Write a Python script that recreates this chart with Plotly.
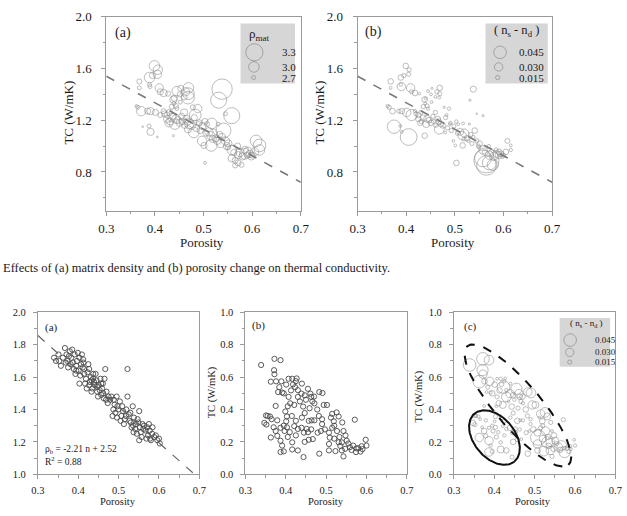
import numpy as np
import plotly.graph_objects as go

W, H = 627, 516
FONT = "Liberation Serif"

# ---------------- top row data (same samples in panels a and b) ----------------
top_porosity = [
    0.399, 0.406, 0.405, 0.389, 0.395, 0.368, 0.389, 0.368, 0.390, 0.409,
    0.411, 0.418, 0.427, 0.445, 0.453, 0.463, 0.451, 0.469, 0.469, 0.468,
    0.538, 0.531, 0.558, 0.541, 0.365, 0.362, 0.372, 0.385, 0.391, 0.401,
    0.411, 0.425, 0.435, 0.439, 0.445, 0.435, 0.431, 0.441, 0.429, 0.451,
    0.461, 0.471, 0.467, 0.481, 0.483, 0.488, 0.460, 0.468, 0.480, 0.491,
    0.498, 0.503, 0.507, 0.497, 0.503, 0.511, 0.517, 0.515, 0.519, 0.516,
    0.501, 0.528, 0.533, 0.538, 0.545, 0.551, 0.558, 0.558, 0.565, 0.565,
    0.571, 0.578, 0.571, 0.585, 0.591, 0.598, 0.608, 0.615, 0.615, 0.605,
    0.388, 0.375, 0.405, 0.438, 0.391, 0.420, 0.425, 0.443, 0.447, 0.456,
    0.475, 0.485, 0.493, 0.520, 0.525, 0.535, 0.548, 0.575, 0.580, 0.590,
    0.595, 0.600, 0.418, 0.430, 0.440, 0.438, 0.443, 0.452, 0.460, 0.478,
    0.530, 0.545, 0.570, 0.585, 0.562, 0.550, 0.505, 0.490, 0.455, 0.465,
]
top_tc = [
    1.620, 1.590, 1.555, 1.530, 1.545, 1.500, 1.475, 1.450, 1.460, 1.450,
    1.420, 1.410, 1.405, 1.425, 1.447, 1.420, 1.400, 1.450, 1.405, 1.375,
    1.440, 1.355, 1.235, 1.120, 1.300, 1.310, 1.270, 1.270, 1.270, 1.260,
    1.240, 1.240, 1.305, 1.330, 1.290, 1.220, 1.190, 1.170, 1.180, 1.180,
    1.160, 1.170, 1.190, 1.220, 1.240, 1.290, 1.260, 1.130, 1.105, 1.180,
    1.155, 1.190, 1.170, 1.040, 0.870, 1.110, 1.175, 1.080, 1.055, 1.005,
    1.005, 1.040, 1.090, 1.070, 1.040, 1.020, 0.970, 0.905, 0.890, 0.850,
    0.870, 0.855, 0.930, 0.940, 0.955, 0.920, 1.040, 1.005, 0.970, 0.955,
    1.155, 1.150, 1.070, 1.080, 1.110, 1.250, 1.210, 1.210, 1.200, 1.190,
    1.160, 1.140, 1.120, 1.100, 1.060, 1.020, 1.000, 0.950, 0.920, 0.930,
    0.940, 0.930, 1.270, 1.260, 1.370, 1.360, 1.310, 1.340, 1.380, 1.300,
    1.170, 1.250, 1.000, 0.970, 0.950, 0.990, 1.100, 1.170, 1.230, 1.210,
]
top_rho_mat = [
    3.00, 2.95, 2.90, 3.00, 2.80, 2.75, 2.70, 2.70, 2.70, 2.90,
    2.80, 2.85, 2.75, 2.95, 2.80, 2.90, 2.75, 3.00, 3.05, 3.10,
    3.45, 3.25, 3.25, 3.20, 2.70, 2.65, 2.95, 2.80, 2.85, 2.80,
    2.75, 2.80, 2.75, 2.70, 2.70, 2.90, 2.85, 3.00, 2.90, 2.85,
    2.80, 2.95, 2.85, 2.80, 3.05, 2.90, 2.85, 2.85, 3.00, 2.80,
    2.85, 2.80, 2.75, 2.95, 2.65, 2.90, 3.00, 2.90, 2.85, 3.05,
    2.80, 2.85, 2.80, 2.85, 2.90, 2.85, 2.95, 2.85, 2.80, 2.75,
    2.80, 2.75, 2.85, 3.00, 2.95, 2.85, 3.05, 3.10, 3.00, 2.90,
    2.70, 2.60, 2.60, 2.62, 2.85, 2.80, 2.85, 2.90, 2.85, 2.80,
    2.90, 2.85, 2.80, 2.90, 2.85, 2.90, 2.85, 2.90, 2.85, 2.80,
    2.85, 2.80, 2.75, 2.80, 2.80, 2.85, 2.75, 2.70, 2.80, 2.75,
    2.70, 2.70, 2.80, 2.85, 2.80, 2.75, 2.80, 2.75, 2.80, 2.85,
]
top_dn = [
    0.020, 0.015, 0.015, 0.020, 0.015, 0.020, 0.012, 0.010, 0.030, 0.030,
    0.015, 0.020, 0.010, 0.010, 0.008, 0.015, 0.010, 0.020, 0.015, 0.010,
    0.022, 0.008, 0.008, 0.020, 0.015, 0.012, 0.020, 0.015, 0.020, 0.030,
    0.040, 0.020, 0.015, 0.010, 0.012, 0.020, 0.015, 0.025, 0.020, 0.020,
    0.015, 0.020, 0.020, 0.015, 0.010, 0.012, 0.015, 0.035, 0.010, 0.012,
    0.015, 0.012, 0.010, 0.010, 0.020, 0.025, 0.010, 0.030, 0.015, 0.020,
    0.010, 0.012, 0.015, 0.012, 0.015, 0.020, 0.030, 0.060, 0.090, 0.070,
    0.050, 0.040, 0.030, 0.025, 0.020, 0.015, 0.018, 0.010, 0.012, 0.020,
    0.010, 0.048, 0.060, 0.020, 0.010, 0.015, 0.020, 0.025, 0.020, 0.015,
    0.020, 0.015, 0.015, 0.030, 0.020, 0.015, 0.015, 0.020, 0.030, 0.025,
    0.020, 0.015, 0.012, 0.015, 0.010, 0.020, 0.015, 0.010, 0.010, 0.008,
    0.008, 0.006, 0.012, 0.015, 0.020, 0.012, 0.015, 0.010, 0.015, 0.020,
]
top_fit_porosity = [0.3, 0.7]
top_fit_tc = [1.54, 0.72]

legend_rho_vals = [3.3, 3.0, 2.7]
legend_rho_labels = ["3.3", "3.0", "2.7"]
legend_dn_vals = [0.045, 0.030, 0.015]
legend_dn_labels = ["0.045", "0.030", "0.015"]

# ---------------- bottom (a): bulk density ----------------
bulk_porosity = [
    0.340, 0.351, 0.353, 0.357, 0.367, 0.371, 0.373, 0.379, 0.383, 0.385,
    0.387, 0.391, 0.395, 0.397, 0.399, 0.401, 0.403, 0.407, 0.409, 0.411,
    0.415, 0.403, 0.419, 0.425, 0.423, 0.427, 0.431, 0.435, 0.439, 0.443,
    0.447, 0.451, 0.455, 0.457, 0.459, 0.463, 0.465, 0.467, 0.470, 0.475,
    0.482, 0.485, 0.490, 0.495, 0.499, 0.503, 0.507, 0.511, 0.515, 0.522,
    0.522, 0.525, 0.530, 0.535, 0.538, 0.543, 0.547, 0.551, 0.553, 0.555,
    0.559, 0.551, 0.563, 0.567, 0.573, 0.575, 0.578, 0.584, 0.592, 0.600,
    0.602, 0.375, 0.381, 0.389, 0.393, 0.405, 0.413, 0.417, 0.421, 0.429,
    0.433, 0.437, 0.441, 0.445, 0.449, 0.453, 0.461, 0.469, 0.473, 0.479,
    0.488, 0.492, 0.497, 0.505, 0.509, 0.513, 0.518, 0.527, 0.532, 0.537,
    0.541, 0.545, 0.549, 0.557, 0.561, 0.569, 0.571, 0.577, 0.580, 0.588,
    0.596, 0.345, 0.362, 0.369, 0.377, 0.395, 0.412, 0.427, 0.437, 0.457,
    0.462, 0.487, 0.496, 0.519, 0.529, 0.536, 0.583, 0.415, 0.433, 0.447,
]
bulk_density = [
    1.72, 1.74, 1.70, 1.67, 1.78, 1.74, 1.70, 1.76, 1.72, 1.77,
    1.69, 1.74, 1.67, 1.70, 1.75, 1.64, 1.72, 1.68, 1.74, 1.66,
    1.62, 1.56, 1.59, 1.68, 1.63, 1.55, 1.60, 1.53, 1.57, 1.62,
    1.51, 1.55, 1.59, 1.49, 1.53, 1.47, 1.59, 1.65, 1.51, 1.48,
    1.48, 1.36, 1.43, 1.48, 1.40, 1.45, 1.36, 1.39, 1.34, 1.48,
    1.65, 1.37, 1.32, 1.42, 1.35, 1.31, 1.34, 1.39, 1.29, 1.26,
    1.31, 1.21, 1.30, 1.27, 1.24, 1.31, 1.22, 1.29, 1.24, 1.22,
    1.19, 1.66, 1.68, 1.65, 1.62, 1.61, 1.69, 1.56, 1.53, 1.57,
    1.51, 1.62, 1.55, 1.58, 1.48, 1.52, 1.56, 1.46, 1.44, 1.46,
    1.46, 1.38, 1.42, 1.33, 1.42, 1.31, 1.36, 1.33, 1.29, 1.26,
    1.28, 1.25, 1.32, 1.23, 1.28, 1.22, 1.29, 1.27, 1.21, 1.23,
    1.21, 1.70, 1.72, 1.69, 1.73, 1.64, 1.71, 1.65, 1.59, 1.56,
    1.50, 1.40, 1.35, 1.40, 1.38, 1.30, 1.25, 1.65, 1.58, 1.54,
]
bulk_fit_slope = -2.21
bulk_fit_intercept = 2.52

# ---------------- bottom (b)/(c): thermal conductivity ----------------
bot_porosity = [
    0.339, 0.372, 0.387, 0.371, 0.372, 0.363, 0.376, 0.389, 0.384, 0.381,
    0.391, 0.401, 0.407, 0.416, 0.427, 0.418, 0.423, 0.413, 0.407, 0.411,
    0.421, 0.430, 0.439, 0.447, 0.455, 0.461, 0.463, 0.459, 0.443, 0.447,
    0.471, 0.483, 0.491, 0.494, 0.502, 0.464, 0.471, 0.375, 0.351, 0.361,
    0.347, 0.352, 0.365, 0.379, 0.399, 0.403, 0.401, 0.387, 0.375, 0.397,
    0.410, 0.421, 0.430, 0.439, 0.445, 0.455, 0.463, 0.467, 0.457, 0.447,
    0.416, 0.416, 0.430, 0.444, 0.387, 0.391, 0.387, 0.395, 0.363, 0.379,
    0.483, 0.487, 0.497, 0.507, 0.515, 0.519, 0.515, 0.526, 0.531, 0.520,
    0.527, 0.533, 0.539, 0.531, 0.543, 0.551, 0.539, 0.547, 0.543, 0.559,
    0.567, 0.574, 0.580, 0.588, 0.598, 0.600, 0.571, 0.523, 0.507, 0.507,
    0.509, 0.479, 0.490, 0.478, 0.482, 0.450, 0.435, 0.430, 0.440, 0.425,
    0.395, 0.405, 0.457, 0.452, 0.425, 0.403, 0.370, 0.355, 0.540, 0.548,
    0.555, 0.563, 0.575, 0.590, 0.585, 0.535, 0.520, 0.512, 0.490, 0.466,
    0.470, 0.440, 0.425, 0.415, 0.395, 0.405,
]
bot_tc = [
    0.675, 0.713, 0.705, 0.643, 0.618, 0.572, 0.574, 0.574, 0.538, 0.508,
    0.505, 0.554, 0.590, 0.590, 0.592, 0.555, 0.538, 0.518, 0.478, 0.438,
    0.428, 0.478, 0.498, 0.488, 0.528, 0.498, 0.478, 0.408, 0.418, 0.378,
    0.438, 0.508, 0.502, 0.428, 0.428, 0.333, 0.333, 0.422, 0.363, 0.357,
    0.317, 0.307, 0.340, 0.333, 0.388, 0.357, 0.327, 0.287, 0.267, 0.267,
    0.260, 0.297, 0.280, 0.287, 0.257, 0.260, 0.277, 0.217, 0.213, 0.200,
    0.197, 0.153, 0.147, 0.106, 0.207, 0.177, 0.137, 0.141, 0.227, 0.237,
    0.127, 0.267, 0.277, 0.257, 0.287, 0.327, 0.373, 0.382, 0.357, 0.300,
    0.267, 0.230, 0.197, 0.197, 0.267, 0.207, 0.147, 0.157, 0.110, 0.167,
    0.177, 0.137, 0.161, 0.173, 0.213, 0.177, 0.337, 0.143, 0.147, 0.187,
    0.226, 0.257, 0.310, 0.400, 0.360, 0.460, 0.450, 0.520, 0.560, 0.575,
    0.500, 0.420, 0.330, 0.280, 0.240, 0.290, 0.290, 0.360, 0.320, 0.240,
    0.190, 0.150, 0.160, 0.155, 0.140, 0.175, 0.220, 0.350, 0.340, 0.450,
    0.480, 0.350, 0.330, 0.360, 0.300, 0.230,
]
bot_dn = [
    0.045, 0.045, 0.035, 0.040, 0.030, 0.045, 0.020, 0.030, 0.015, 0.010,
    0.012, 0.020, 0.010, 0.012, 0.010, 0.015, 0.045, 0.020, 0.015, 0.020,
    0.025, 0.035, 0.030, 0.020, 0.040, 0.030, 0.020, 0.015, 0.020, 0.015,
    0.012, 0.030, 0.035, 0.030, 0.025, 0.010, 0.012, 0.010, 0.015, 0.012,
    0.020, 0.015, 0.010, 0.012, 0.010, 0.015, 0.010, 0.012, 0.020, 0.015,
    0.012, 0.010, 0.012, 0.020, 0.015, 0.010, 0.012, 0.010, 0.015, 0.020,
    0.012, 0.025, 0.020, 0.015, 0.030, 0.012, 0.030, 0.015, 0.030, 0.015,
    0.020, 0.010, 0.020, 0.025, 0.015, 0.020, 0.030, 0.035, 0.025, 0.015,
    0.030, 0.020, 0.030, 0.040, 0.010, 0.025, 0.030, 0.020, 0.015, 0.030,
    0.035, 0.040, 0.015, 0.012, 0.010, 0.012, 0.015, 0.035, 0.020, 0.030,
    0.055, 0.015, 0.012, 0.020, 0.015, 0.012, 0.010, 0.012, 0.010, 0.012,
    0.020, 0.010, 0.020, 0.015, 0.012, 0.015, 0.010, 0.012, 0.015, 0.020,
    0.015, 0.020, 0.012, 0.010, 0.015, 0.020, 0.025, 0.010, 0.012, 0.015,
    0.020, 0.012, 0.015, 0.010, 0.012, 0.015,
]

# ---------------- geometry helpers ----------------
def px_x(p):
    return p / W

def px_y(p):
    return 1 - p / H

def rho_size(v):
    return max(1.5, (v - 2.52) * 22)

def dn_size(v):
    return max(1.5, v * 280)

GREY_AX = "#9a9a9a"
OPEN = "rgba(0,0,0,0)"

fig = go.Figure()

# top (a)
fig.add_trace(go.Scatter(x=top_porosity, y=top_tc, mode="markers", xaxis="x", yaxis="y",
    marker=dict(size=[rho_size(v) for v in top_rho_mat], color=OPEN,
                line=dict(color="#8a8a8a", width=0.8))))
fig.add_trace(go.Scatter(x=top_fit_porosity, y=top_fit_tc, mode="lines", xaxis="x", yaxis="y",
    line=dict(color="#7a7a7a", width=1.6, dash="dash")))
# top (b)
fig.add_trace(go.Scatter(x=top_porosity, y=top_tc, mode="markers", xaxis="x2", yaxis="y2",
    marker=dict(size=[dn_size(v) for v in top_dn], color=OPEN,
                line=dict(color="#8a8a8a", width=0.8))))
fig.add_trace(go.Scatter(x=top_fit_porosity, y=top_fit_tc, mode="lines", xaxis="x2", yaxis="y2",
    line=dict(color="#7a7a7a", width=1.6, dash="dash")))
# bottom (a)
fig.add_trace(go.Scatter(x=bulk_porosity, y=bulk_density, mode="markers", xaxis="x3", yaxis="y3",
    marker=dict(size=5.2, color=OPEN, line=dict(color="#4a4a4a", width=0.9))))
fit_x = [0.3, (1.0 - bulk_fit_intercept) / bulk_fit_slope]
fit_y = [bulk_fit_slope * v + bulk_fit_intercept for v in fit_x]
fig.add_trace(go.Scatter(x=fit_x, y=fit_y, mode="lines", xaxis="x3", yaxis="y3",
    line=dict(color="#666666", width=1.2, dash="dash")))
# bottom (b)
fig.add_trace(go.Scatter(x=bot_porosity, y=bot_tc, mode="markers", xaxis="x4", yaxis="y4",
    marker=dict(size=5.2, color=OPEN, line=dict(color="#4a4a4a", width=0.9))))
# bottom (c)
fig.add_trace(go.Scatter(x=bot_porosity, y=bot_tc, mode="markers", xaxis="x5", yaxis="y5",
    marker=dict(size=[dn_size(v) for v in bot_dn], color=OPEN,
                line=dict(color="#8a8a8a", width=0.8))))

# ellipses in (c) (defined in pixel units, converted with axis scales)
SX, SY = 166 / 0.4, 166 / 1.0

def ellipse(cx, cy, a, b, ang):
    t = np.linspace(0, 2 * np.pi, 240)
    th = np.radians(ang)
    dx = a * np.cos(t) * np.cos(th) - b * np.sin(t) * np.sin(th)
    dy = a * np.cos(t) * np.sin(th) + b * np.sin(t) * np.cos(th)
    return cx + dx / SX, cy + dy / SY

ex, ey = ellipse(0.4585, 0.4245, 80, 23, -49.5)
fig.add_trace(go.Scatter(x=ex, y=ey, mode="lines", xaxis="x5", yaxis="y5",
    line=dict(color="#111111", width=2, dash="dash")))
ex, ey = ellipse(0.4005, 0.2265, 32, 21, -50)
fig.add_trace(go.Scatter(x=ex, y=ey, mode="lines", xaxis="x5", yaxis="y5",
    line=dict(color="#111111", width=2)))

# legend boxes
shapes = []
def legend_box(xr, yr, x0, x1, y0, y1):
    shapes.append(dict(type="rect", xref=xr, yref=yr, x0=x0, x1=x1, y0=y0, y1=y1,
                       fillcolor="#d6d6d6", line=dict(width=0), layer="below"))

legend_box("x", "y", 0.576, 0.688, 1.483, 1.948)
legend_box("x2", "y2", 0.563, 0.691, 1.483, 1.948)
legend_box("x5", "y5", 0.562, 0.687, 0.664, 0.966)

leg_top_y = [1.725, 1.612, 1.530]
fig.add_trace(go.Scatter(x=[0.6045, 0.6035, 0.603], y=leg_top_y, mode="markers",
    xaxis="x", yaxis="y", marker=dict(size=[rho_size(v) for v in legend_rho_vals], color=OPEN,
    line=dict(color="#7a7a7a", width=0.8))))
fig.add_trace(go.Scatter(x=[0.593, 0.590, 0.588], y=leg_top_y, mode="markers",
    xaxis="x2", yaxis="y2", marker=dict(size=[dn_size(v) for v in legend_dn_vals], color=OPEN,
    line=dict(color="#7a7a7a", width=0.8))))
fig.add_trace(go.Scatter(x=[0.588, 0.587, 0.587], y=[0.829, 0.753, 0.693], mode="markers",
    xaxis="x5", yaxis="y5", marker=dict(size=[dn_size(v) for v in legend_dn_vals], color=OPEN,
    line=dict(color="#7a7a7a", width=0.8))))

ann = []
def txt(x, y, s, xr, yr, size, xanchor="center", angle=0, color="#1a1a1a"):
    ann.append(dict(x=x, y=y, xref=xr, yref=yr, text=s, showarrow=False, xanchor=xanchor,
                    yanchor="middle", textangle=angle, font=dict(family=FONT, size=size, color=color)))

# legend texts
for yy, s in zip(leg_top_y, legend_rho_labels):
    txt(0.658, yy, s, "x", "y", 11, "left")
txt(0.614, 1.865, "ρ<sub>mat</sub>", "x", "y", 13)
for yy, s in zip(leg_top_y, legend_dn_labels):
    txt(0.627, yy, s, "x2", "y2", 11, "left")
txt(0.627, 1.893, "( n<sub>s</sub> - n<sub>d</sub> )", "x2", "y2", 12.5)
for yy, s in zip([0.829, 0.753, 0.693], legend_dn_labels):
    txt(0.645, yy, s, "x5", "y5", 9, "left")
txt(0.629, 0.93, "( n<sub>s</sub> - n<sub>d</sub> )", "x5", "y5", 9)

# panel labels
txt(0.334, 1.873, "(a)", "x", "y", 14)
txt(0.333, 1.880, "(b)", "x2", "y2", 14)
txt(0.334, 1.904, "(a)", "x3", "y3", 11)
txt(0.332, 0.919, "(b)", "x4", "y4", 11)
txt(0.340, 0.910, "(c)", "x5", "y5", 11)

# equation
txt(0.312, 1.150, "ρ<sub>b</sub> = -2.21 n + 2.52", "x3", "y3", 9.5, "left")
txt(0.312, 1.080, "R<sup>2</sup> = 0.88", "x3", "y3", 9.5, "left")

# axis titles
txt(px_x(62), px_y(108), "TC (W/mK)", "paper", "paper", 13, angle=-90)
txt(px_x(320), px_y(108), "TC (W/mK)", "paper", "paper", 13, angle=-90)
txt(px_x(199), px_y(242), "Porosity", "paper", "paper", 13)
txt(px_x(457), px_y(242), "Porosity", "paper", "paper", 13)
txt(px_x(113), px_y(507), "Porosity", "paper", "paper", 10.5)
txt(px_x(327), px_y(507), "Porosity", "paper", "paper", 10.5)
txt(px_x(540), px_y(507), "Porosity", "paper", "paper", 10.5)
txt(px_x(210), px_y(395), "TC (W/mK)", "paper", "paper", 10.5, angle=-90)
txt(px_x(422), px_y(400), "TC (W/mK)", "paper", "paper", 10.5, angle=-90)

# caption
txt(px_x(-7), px_y(268), "Effects of (a) matrix density and (b) porosity change on thermal conductivity.",
    "paper", "paper", 12.5, "left")

def xaxis(dom, anchor, size, standoff):
    return dict(domain=dom, anchor=anchor, range=[0.3, 0.7], tickmode="linear", tick0=0.3, dtick=0.1,
                tickformat=".1f", showgrid=False, zeroline=False, showline=True, mirror=True,
                linecolor=GREY_AX, linewidth=1, ticks="outside", ticklen=4, tickcolor=GREY_AX,
                ticklabelstandoff=standoff,
                minor=dict(dtick=0.05, ticks="outside", ticklen=2.5, tickcolor=GREY_AX),
                tickfont=dict(family=FONT, size=size, color="#1a1a1a"))

def yaxis(dom, anchor, rng, tick0, dtick, mdtick, size, standoff):
    return dict(domain=dom, anchor=anchor, range=rng, tickmode="linear", tick0=tick0, dtick=dtick,
                tickformat=".1f", showgrid=False, zeroline=False, showline=True, mirror=True,
                linecolor=GREY_AX, linewidth=1, ticks="outside", ticklen=4, tickcolor=GREY_AX,
                ticklabelstandoff=standoff,
                minor=dict(dtick=mdtick, ticks="outside", ticklen=2.5, tickcolor=GREY_AX),
                tickfont=dict(family=FONT, size=size, color="#1a1a1a"))

top_y = [px_y(209), px_y(10)]
bot_y = [px_y(479.3), px_y(313.3)]

fig.update_layout(
    width=W, height=H, margin=dict(l=0, r=0, t=0, b=0),
    paper_bgcolor="white", plot_bgcolor="white", showlegend=False,
    font=dict(family=FONT),
    xaxis=xaxis([px_x(101), px_x(301)], "y", 13, 2),
    yaxis=yaxis(top_y, "x", [0.5, 2.0], 0.4, 0.4, 0.2, 13, 7),
    xaxis2=xaxis([px_x(359.3), px_x(559.3)], "y2", 13, 2),
    yaxis2=yaxis(top_y, "x2", [0.5, 2.0], 0.4, 0.4, 0.2, 13, 7),
    xaxis3=xaxis([px_x(30.7), px_x(196.7)], "y3", 10.5, 2),
    yaxis3=yaxis(bot_y, "x3", [1.0, 2.0], 1.0, 0.2, 0.1, 10.5, 5),
    xaxis4=xaxis([px_x(244), px_x(410)], "y4", 10.5, 2),
    yaxis4=yaxis(bot_y, "x4", [0.0, 1.0], 0.0, 0.2, 0.1, 10.5, 5),
    xaxis5=xaxis([px_x(458.3), px_x(624.3)], "y5", 10.5, 2),
    yaxis5=yaxis(bot_y, "x5", [0.0, 1.0], 0.0, 0.2, 0.1, 10.5, 5),
    shapes=shapes, annotations=ann,
)

fig.write_html("out.html")
